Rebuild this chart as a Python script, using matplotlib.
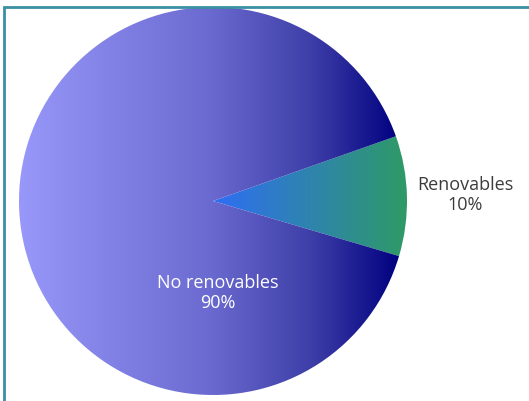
import numpy as np
import matplotlib.pyplot as plt
from matplotlib.colors import LinearSegmentedColormap
from matplotlib.patches import Rectangle

labels = ["Renovables", "No renovables"]
values = [10, 90]
grad_stops = [
    [(0.0, "#2f6ef5"), (1.0, "#2e9a66")],
    [(0.0, "#9898fa"), (0.5, "#6a6ad0"), (0.77, "#3e3ea8"), (1.0, "#000080")],
]

W, H = 529, 402
fig = plt.figure(figsize=(W / 100, H / 100), dpi=100)
ax = fig.add_axes([0, 0, 1, 1])

cx, cy, r = 213, 200, 194
wedges, _ = ax.pie(values, startangle=-16.5, counterclock=True,
                   center=(cx, cy), radius=r, frame=True,
                   wedgeprops=dict(linewidth=0, alpha=0))
ax.set_xlim(0, W)
ax.set_ylim(0, H)
ax.set_aspect("equal")
ax.axis("off")

# horizontal gradient fill clipped to each wedge
for i, (w, stops) in enumerate(zip(wedges, grad_stops)):
    bb = w.get_path().get_extents()
    x0, x1 = bb.x0, bb.x1
    if i == 0:
        x0 = cx
    cmap = LinearSegmentedColormap.from_list("g%d" % i, stops)
    grad = np.linspace(0, 1, 256).reshape(1, -1)
    im = ax.imshow(grad, cmap=cmap, extent=(x0, x1, bb.y0, bb.y1),
                   aspect="auto", zorder=1, interpolation="bilinear")
    im.set_clip_path(w)

font = "Open Sans"
total = sum(values)
ax.text(cx + 252, cy + 7, f"{labels[0]}\n{values[0] * 100 // total}%",
        ha="center", va="center", fontsize=13, color="#3c3c3c",
        family=font, linespacing=1.1, zorder=3)
ax.text(cx + 5, cy - 91, f"{labels[1]}\n{values[1] * 100 // total}%",
        ha="center", va="center", fontsize=13, color="white",
        family=font, linespacing=1.1, zorder=3)

# outer frame (only left and top visible)
fig.patches.append(Rectangle((4 / W, -0.1), 1.5, (H - 8) / H + 0.1,
                             transform=fig.transFigure, fill=False,
                             edgecolor="#3b8ea3", linewidth=2))

fig.savefig("out.png", dpi=100)
